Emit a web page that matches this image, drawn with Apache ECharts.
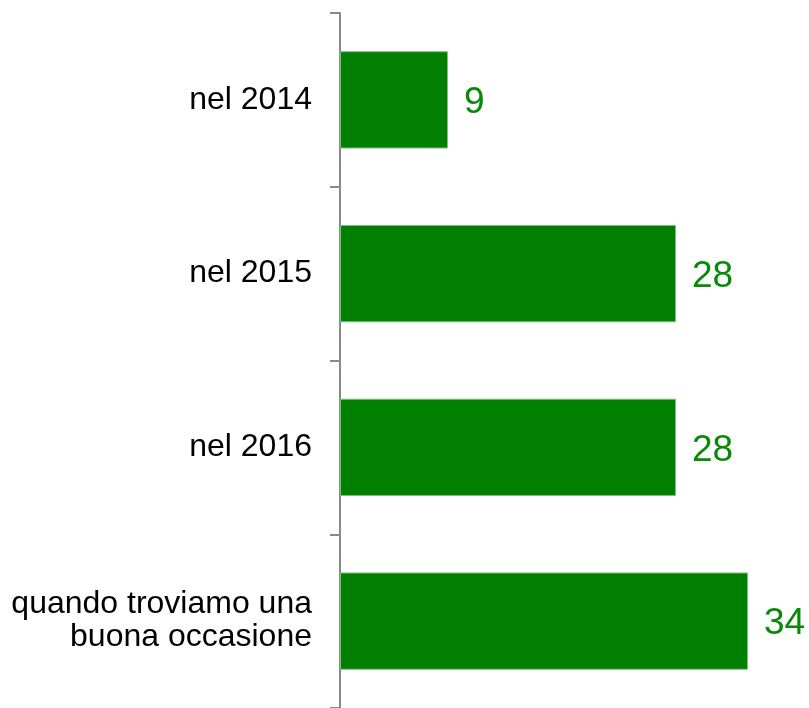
<!DOCTYPE html>
<html>
<head>
<meta charset="utf-8">
<script src="https://cdn.jsdelivr.net/npm/echarts@6/dist/echarts.min.js"></script>
<style>
  html, body { margin: 0; padding: 0; background: #fff; }
  #main { width: 809px; height: 708px; }
</style>
</head>
<body>
<div id="main"></div>
<script>
var categories = ['nel 2014', 'nel 2015', 'nel 2016', 'quando troviamo una\nbuona occasione']
var values = [9, 28, 28, 34]

var myChart = echarts.init(document.getElementById('main'))

var option = {
  animation: false,
  grid: {
    left: 340,
    right: 37,
    top: 13,
    bottom: 0,
    containLabel: false,
  },
  xAxis: {
    type: 'value',
    min: 0,
    max: 36,
    show: false,
  },
  yAxis: {
    type: 'category',
    inverse: true,
    data: categories,
    axisLine: { lineStyle: { color: '#898989', width: 2 } },
    axisTick: { show: true, length: 10, lineStyle: { color: '#898989', width: 2 } },
    axisLabel: {
      margin: 28,
      color: '#000',
      fontFamily: 'Liberation Sans, Arial, sans-serif',
      fontSize: 32,
      lineHeight: 33,
      align: 'right',
    },
  },
  series: [
    {
      type: 'bar',
      data: values,
      barCategoryGap: '44%',
      itemStyle: {
        color: '#007f00',
        borderColor: '#7fbf7f',
        borderWidth: 1,
      },
      label: {
        show: true,
        position: 'right',
        distance: 16,
        offset: [0, 3],
        color: '#088a08',
        fontFamily: 'Liberation Sans, Arial, sans-serif',
        fontSize: 37,
      },
    },
  ],
}

myChart.setOption(option)
</script>
</body>
</html>
